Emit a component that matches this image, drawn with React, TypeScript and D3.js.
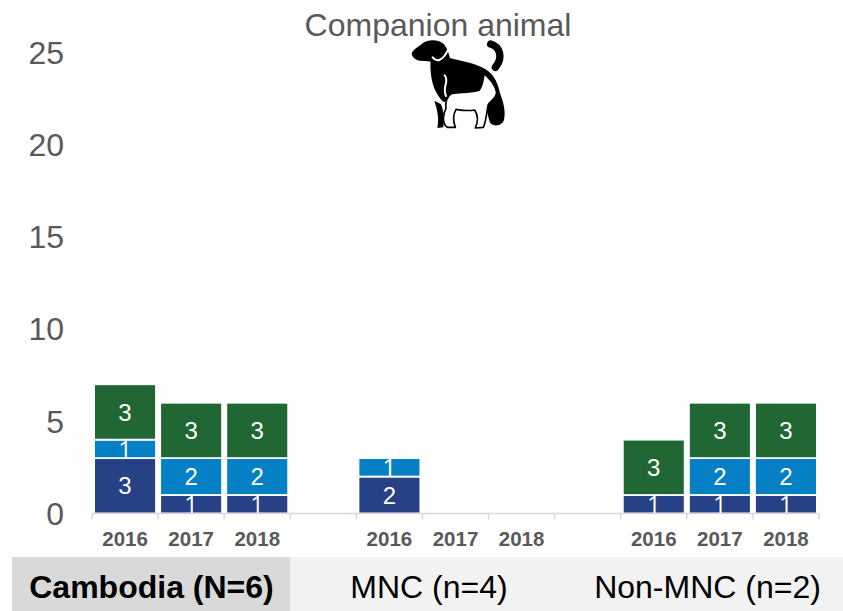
import React from "react";
import * as d3 from "d3";

const W = 843, H = 611;
const slots = ["a2016","a2017","a2018","gap1","b2016","b2017","b2018","gap2","c2016","c2017","c2018"];
const slotLabels = ["2016","2017","2018","","2016","2017","2018","","2016","2017","2018"];
const navy = [3,1,1,0,2,0,0,0,1,1,1];
const blue = [1,2,2,0,1,0,0,0,0,2,2];
const green = [3,3,3,0,0,0,0,0,3,3,3];
const yTicks = [0,5,10,15,20,25];
const colours = ["#264185","#0580c4","#216734"];
const groups = [
  { label: "Cambodia (N=6)", cx: 151.5, bold: true },
  { label: "MNC (n=4)", cx: 429, bold: false },
  { label: "Non-MNC (n=2)", cx: 707.5, bold: false },
];

const x = d3.scaleBand<string>().domain(slots).range([92, 819]).padding(0);
const y = d3.scaleLinear().domain([0, 25]).range([513.5, 52]);
const stackData = slots.map((s, i) => ({ s, navy: navy[i], blue: blue[i], green: green[i] }));
const stacked = d3.stack<any>().keys(["navy","blue","green"])(stackData);
const font = "'Liberation Sans', Arial, sans-serif";

export default function App() {
  const bw = x.bandwidth();
  const barW = bw - 4.2;
  return (
    <svg width={W} height={H} viewBox={`0 0 ${W} ${H}`} style={{ position: "absolute", left: 0, top: 0, background: "#fff" }} fontFamily={font}>
      <rect x={290} y={557} width={553} height={54} fill="#f2f2f2" />
      <rect x={12} y={557} width={278} height={54} fill="#d9d9d9" />
      {yTicks.map(t => (
        <text key={t} x={64} y={y(t)} dy="0.36em" textAnchor="end" fontSize={32} fill="#595959">{t}</text>
      ))}
      <text x={438} y={36} textAnchor="middle" fontSize={32} fill="#595959">Companion animal</text>
      {stacked.map((ser, k) => ser.map((d, i) => {
        const v = d[1] - d[0];
        if (!v) return null;
        const bx = x(slots[i])! + (bw - barW) / 2;
        const top = y(d[1]), bot = y(d[0]);
        return (
          <g key={`${k}-${i}`}>
            <rect x={bx} y={top} width={barW} height={bot - top} fill={colours[k]} stroke="#fff" strokeWidth={1.8} />
            <text x={bx + barW / 2} y={(top + bot) / 2} dy="0.36em" textAnchor="middle" fontSize={24} fill="#fff"
              fontFamily={v === 1 ? "'Open Sans', sans-serif" : undefined}>{v}</text>
          </g>
        );
      }))}
      <line x1={92} x2={819} y1={y(0)} y2={y(0)} stroke="#d9d9d9" strokeWidth={1.5} />
      {[...slots.map(s => x(s)!), 819].map((px, i) => (
        <line key={i} x1={px} x2={px} y1={y(0)} y2={y(0) + 6} stroke="#d9d9d9" strokeWidth={1.5} />
      ))}
      {slots.map((s, i) => slotLabels[i] && (
        <text key={s} x={x(s)! + bw / 2} y={546} textAnchor="middle" fontSize={20.5} fontWeight="bold" fill="#595959">{slotLabels[i]}</text>
      ))}
      {groups.map(g => (
        <text key={g.label} x={g.cx} y={598} textAnchor="middle" fontSize={32} fontWeight={g.bold ? "bold" : "normal"} fill="#000">{g.label}</text>
      ))}
      <g transform="translate(400,30) scale(0.3333)">
        <path fill="#000" d="M35 72 C36 60 55 52 68 40 C85 26 118 28 132 43 C142 56 146 70 150 84 C175 92 215 96 245 112 C275 125 292 150 300 190 C310 215 318 245 312 270 C305 290 280 290 270 278 C262 255 262 235 255 215 L130 215 C118 205 105 185 98 160 C92 135 90 110 92 95 C75 92 42 98 35 72 Z" />
        <path fill="none" stroke="#000" strokeWidth={22} strokeLinecap="round" d="M272 42 C298 50 312 80 286 112" />
        <path fill="#000" d="M103 212 L122 222 C132 240 132 265 130 292 L112 294 C118 265 112 240 103 212 Z" />
        <path fill="none" stroke="#fff" strokeWidth={6} strokeLinecap="round" d="M98 82 C110 98 128 92 143 62" />
        <path fill="none" stroke="#fff" strokeWidth={6} strokeLinecap="round" d="M134 136 C150 155 125 170 138 198" />
        <path fill="#fff" stroke="#000" strokeWidth={5} strokeLinejoin="round" d="M252 130 C268 146 286 162 290 188 C288 208 270 212 264 226 C260 250 258 275 250 292 L226 294 C236 272 232 252 224 240 C205 244 180 240 168 238 C158 256 160 276 166 292 L142 292 C124 280 130 250 138 235 C135 218 140 198 156 190 C185 186 222 188 238 180 C246 168 250 150 252 130 Z" />
      </g>
    </svg>
  );
}
